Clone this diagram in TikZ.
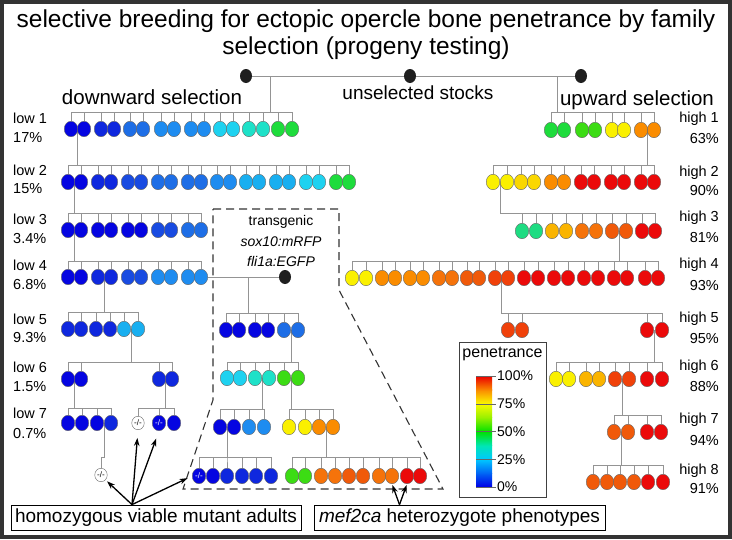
\documentclass[tikz,border=0pt]{standalone}
\usepackage{fontspec}
\setmainfont{Liberation Sans}
\usetikzlibrary{shapes.geometric,calc,backgrounds,arrows.meta}
\definecolor{cB0}{RGB}{5,5,225}
\definecolor{cB1}{RGB}{15,40,222}
\definecolor{cB2}{RGB}{25,75,225}
\definecolor{cB3}{RGB}{30,110,230}
\definecolor{cB4}{RGB}{30,140,240}
\definecolor{cB5}{RGB}{25,175,240}
\definecolor{cC}{RGB}{30,210,240}
\definecolor{cA}{RGB}{30,225,200}
\definecolor{cAG}{RGB}{30,220,130}
\definecolor{cG}{RGB}{30,220,60}
\definecolor{cG2}{RGB}{60,220,20}
\definecolor{cY}{RGB}{250,240,0}
\definecolor{cY2}{RGB}{250,215,0}
\definecolor{cO1}{RGB}{250,180,0}
\definecolor{cO}{RGB}{250,140,0}
\definecolor{cO2}{RGB}{245,115,10}
\definecolor{cO3}{RGB}{240,90,10}
\definecolor{cO4}{RGB}{240,65,10}
\definecolor{cR}{RGB}{235,10,10}
\definecolor{g0}{RGB}{0,0,230}
\definecolor{g12}{RGB}{0,100,245}
\definecolor{g25}{RGB}{0,200,255}
\definecolor{g37}{RGB}{0,230,180}
\definecolor{g50}{RGB}{0,225,0}
\definecolor{g62}{RGB}{150,240,0}
\definecolor{g75}{RGB}{250,250,0}
\definecolor{g87}{RGB}{250,140,0}
\definecolor{g100}{RGB}{235,0,0}
\newcommand\fishrow[3]{\foreach \xx/\cc [count=\ii] in {#3} {\node[fish, fill=\cc] (#1-\ii) at (\xx,#2) {};}}
\newcommand\famfrom[4]{\coordinate (#3y) at (0,#2);
  \foreach \ii in {1,...,#4} {\draw[conn] (#1) -- (#1 |- #3y) -| (#3-\ii.north);}}
\newcommand\famlink[5]{\coordinate (#4p) at ($(#1)!0.5!(#2)$);\famfrom{#4p}{#3}{#4}{#5}}
\begin{document}
\begin{tikzpicture}[x=1pt,y=-1pt,
  fish/.style={ellipse, draw=black!60, line width=0.4pt, minimum width=13.5pt, minimum height=15.5pt, inner sep=0pt},
  wfish/.style={fish, fill=white, minimum width=12.5pt, minimum height=13.5pt},
  blackdot/.style={ellipse, fill=black!88, minimum width=12pt, minimum height=14pt, inner sep=0pt},
  conn/.style={draw=black!42, line width=0.9pt},
  lab/.style={font=\fontsize{14.5}{16}\selectfont, inner sep=0pt},
  mut/.style={font=\fontsize{8}{8}\selectfont, inner sep=0pt},
  arr/.style={-{Stealth[length=8pt,width=5.5pt]}, line width=1.3pt, black},
  lbox/.style={draw=black, line width=0.8pt, minimum width=290pt, minimum height=25pt, inner sep=0pt, font=\fontsize{19}{22}\selectfont},
  dashline/.style={draw=black!80, line width=1.1pt, dash pattern=on 8pt off 5pt}]
\useasboundingbox (0,0) rectangle (732,539);
% title
\node[font=\fontsize{24.5}{28}\selectfont] (t1) at (366,21) {selective breeding for ectopic opercle bone penetrance by family};
\node[font=\fontsize{24.5}{28}\selectfont] (t2) at (366,48) {selection (progeny testing)};
\node[font=\fontsize{20.5}{24}\selectfont] (down) at (152,97) {downward selection};
\node[font=\fontsize{19}{22}\selectfont] (unsel) at (418,93) {unselected stocks};
\node[font=\fontsize{20.5}{24}\selectfont] (up) at (637,100) {upward selection};
% top dots
\node[blackdot] (D1) at (246,76) {};
\node[blackdot] (D2) at (410,76) {};
\node[blackdot] (D3) at (581,76) {};
\coordinate (topL) at ($(D1)!0.072!(D3)$);
\coordinate (topR) at ($(D1)!0.931!(D3)$);
% left side
\fishrow{L1}{129}{71/cB0,84/cB0,101/cB1,114/cB1,130/cB3,143/cB3,161/cB4,174/cB4,191/cB4,204/cB4,220/cC,233/cC,249/cA,263/cA,278/cG,292/cG}
\fishrow{L2}{182}{68/cB0,81/cB0,98/cB1,111/cB1,128/cB2,141/cB2,158/cB3,171/cB3,188/cB3,201/cB3,217/cB4,230/cB4,246/cB5,259/cB5,276/cB5,289/cB5,306/cC,319/cC,336/cG,349/cG}
\fishrow{L3}{230}{68/cB0,81/cB0,98/cB0,111/cB0,128/cB0,141/cB0,158/cB2,171/cB2,188/cB3,201/cB3}
\fishrow{L4}{277}{68/cB0,81/cB0,98/cB1,111/cB1,128/cB2,141/cB2,158/cB4,171/cB4,188/cB4,201/cB4}
\fishrow{L5}{329}{68/cB1,81/cB1,96/cB1,110/cB1,124/cB5,138/cB5}
\fishrow{L6}{379}{68/cB0,81/cB0,159/cB1,172/cB1}
\fishrow{L7a}{423}{68/cB0,82/cB0,97/cB0,111/cB1}
\node[wfish] (L7b-1) at (138,423) {};
\node[fish, fill=cB0] (L7b-2) at (159,423) {};
\node[fish, fill=cB0] (L7b-3) at (174,423) {};
\node[wfish] (M) at (101,475) {};
\node[mut] (Mt) at (M) {-/-};
\node[mut] (L7b-1t) at (L7b-1) {-/-};
\node[mut, text=white] (L7b-2t) at (L7b-2) {-/-};
% transgenic
\node[blackdot] (TD) at (285,277) {};
\coordinate (Tp) at ($(L4-10)!0.56!(TD)$);
\node[lab, font=\fontsize{14}{16}\selectfont] (tg1) at (281,222) {transgenic};
\node[lab, font=\fontsize{14}{16}\selectfont\itshape] (tg2) at (281,242) {sox10:mRFP};
\node[lab, font=\fontsize{14}{16}\selectfont\itshape] (tg3) at (281,261) {fli1a:EGFP};
\fishrow{T1}{330}{226/cB0,239/cB0,255/cB0,268/cB0,284/cB3,298/cB3}
\fishrow{T2}{378}{227/cC,240/cC,255/cA,269/cA,284/cG2,298/cG2}
\fishrow{T3a}{427}{220/cB0,234/cB0,249/cB4,264/cB4}
\fishrow{T3b}{427}{289/cY,305/cY,319/cO,333/cO}
\fishrow{T4a}{476}{199/cB0,213/cB0,227/cB1,242/cB1,256/cB1,271/cB1}
\fishrow{T4b}{476}{292/cG2,305/cG2,321/cO2,335/cO2,349/cO3,363/cO3,379/cO2,392/cO2,407/cR,420/cR}
\node[mut, text=white] (T4a-1t) at (T4a-1) {-/-};
\draw[dashline] (213,209) -- (339,209) -- (339,290) -- (443,489) -- (183,489) -- (213,400) -- cycle;
% right side
\fishrow{H1}{130}{551/cG,564/cG,582/cG2,595/cG2,612/cY,624/cY,641/cO,654/cO}
\fishrow{H2}{182}{493/cY,507/cY,521/cY2,534/cY2,551/cO,564/cO,581/cR,594/cR,611/cR,624/cR,641/cR,654/cR}
\fishrow{H3}{231}{522/cAG,536/cAG,552/cO1,566/cO1,582/cO2,596/cO2,612/cO3,626/cO3,642/cR,655/cR}
\fishrow{H4}{278}{352/cY,366/cY,382/cO,395/cO,410/cO,423/cO,439/cO2,452/cO2,467/cO3,479/cO3,495/cO4,508/cO4,524/cR,538/cR,554/cR,568/cR,584/cR,598/cR,614/cR,627/cR,645/cR,658/cR}
\fishrow{H5a}{330}{508/cO4,522/cO4}
\fishrow{H5b}{330}{647/cR,662/cR}
\fishrow{H6}{379}{556/cY,569/cY,586/cO1,599/cO1,615/cO4,629/cO4,647/cR,662/cR}
\fishrow{H7}{432}{614/cO3,628/cO3,647/cR,661/cR}
\fishrow{H8}{482}{593/cO3,607/cO3,620/cO3,634/cO3,648/cR,663/cR}
% generation labels
\foreach \nm/\yy/\pp/\py [count=\k] in {low 1/118/17\%/138, low 2/170/15\%/189, low 3/219/3.4\%/239, low 4/265/6.8\%/285, low 5/319/9.3\%/338, low 6/367/1.5\%/387, low 7/413/0.7\%/434}{
  \node[lab, anchor=west] (lowl\k) at (13,\yy) {\nm};
  \node[lab, anchor=west] (lowp\k) at (13,\py) {\pp};}
\foreach \nm/\yy/\pp/\py [count=\k] in {high 1/119/63\%/139, high 2/173/90\%/191, high 3/218/81\%/238, high 4/265/93\%/286, high 5/319/95\%/339, high 6/367/88\%/387, high 7/420/94\%/441, high 8/471/91\%/489}{
  \node[lab, anchor=east] (highl\k) at (719,\yy) {\nm};
  \node[lab, anchor=east] (highp\k) at (719,\py) {\pp};}
% legend
\draw[black!75, line width=0.8pt] (459,342) rectangle (546,497);
\node[font=\fontsize{16}{18}\selectfont] (pen) at (502.5,354) {penetrance};
\shade[bottom color=g0, top color=g12] (476,487) rectangle (492,473.1);
\shade[bottom color=g12, top color=g25] (476,473.4) rectangle (492,459.25);
\shade[bottom color=g25, top color=g37] (476,459.5) rectangle (492,445.4);
\shade[bottom color=g37, top color=g50] (476,445.7) rectangle (492,431.5);
\shade[bottom color=g50, top color=g62] (476,431.8) rectangle (492,417.6);
\shade[bottom color=g62, top color=g75] (476,417.9) rectangle (492,403.75);
\shade[bottom color=g75, top color=g87] (476,404) rectangle (492,389.9);
\shade[bottom color=g87, top color=g100] (476,390.2) rectangle (492,376);
\foreach \yy/\tx [count=\k] in {376/100\%,403.75/75\%,431.5/50\%,459.25/25\%,487/0\%}{
  \draw[black!60, line width=0.5pt] (476,\yy) -- (496,\yy);
  \node[lab, font=\fontsize{14}{16}\selectfont, anchor=west] (leg\k) at (497,\yy) {\tx};}
% bottom boxes
\node[lbox] (hbox) at (156,517.5) {homozygous viable mutant adults};
\node[lbox, minimum width=291pt] (mbox) at (459.5,517.5) {\textit{mef2ca} heterozygote phenotypes};
\coordinate (hsrc) at ([xshift=-24pt]hbox.north);
\coordinate (msrc) at ([xshift=-60pt]mbox.north);
\draw[arr, shorten >=2pt] (hsrc) -- (M.south east);
\draw[arr, shorten >=8pt] (hsrc) -- (L7b-1.south);
\draw[arr, shorten >=8pt] (hsrc) -- (L7b-2.south);
\draw[arr, shorten >=5pt] (hsrc) -- (T4a-1.west);
\draw[arr, shorten >=1pt] (msrc) -- (T4b-8.south);
\draw[arr, shorten >=1pt] (msrc) -- (T4b-9.south);
% connectors
\begin{scope}[on background layer]
\fill[white] (0,0) rectangle (732,539);
\draw[conn] (D1) -- (D3);
\draw[conn] (L4-10) -- (TD);
\famfrom{topL}{112}{L1}{16}
\famlink{L1-1}{L1-2}{165}{L2}{20}
\famlink{L2-1}{L2-2}{213}{L3}{10}
\famlink{L3-1}{L3-2}{261}{L4}{10}
\famlink{L4-3}{L4-4}{312}{L5}{6}
\famlink{L5-5}{L5-6}{362}{L6}{4}
\famlink{L6-1}{L6-2}{408}{L7a}{4}
\famlink{L6-3}{L6-4}{408}{L7b}{3}
\coordinate (Mp) at ($(L7a-3)!0.5!(L7a-4)$);
\coordinate (My) at (0,457);
\draw[conn] (Mp) -- (Mp |- My) -| (M.north);
\famfrom{Tp}{313}{T1}{6}
\famlink{T1-5}{T1-6}{362}{T2}{6}
\famlink{T2-3}{T2-4}{409}{T3a}{4}
\famlink{T2-5}{T2-6}{409}{T3b}{4}
\famlink{T3a-1}{T3a-2}{457}{T4a}{6}
\famlink{T3b-3}{T3b-4}{457}{T4b}{10}
\famfrom{topR}{112}{H1}{8}
\famlink{H1-7}{H1-8}{165}{H2}{12}
\famlink{H2-1}{H2-2}{213}{H3}{10}
\famlink{H3-7}{H3-8}{261}{H4}{22}
\famlink{H4-11}{H4-12}{313}{H5a}{2}
\famfrom{H5ap}{313}{H5b}{2}
\famlink{H5b-1}{H5b-2}{362}{H6}{8}
\famlink{H6-5}{H6-6}{415}{H7}{4}
\famlink{H7-1}{H7-2}{465}{H8}{6}
\end{scope}
% frame
\draw[black!80, line width=4pt] (2,2) rectangle (730,537);
\end{tikzpicture}
\end{document}
